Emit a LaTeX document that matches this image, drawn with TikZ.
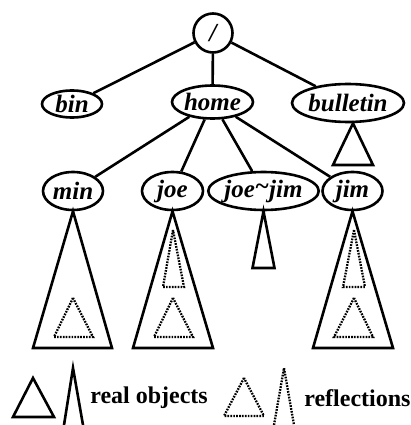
\documentclass[tikz,border=0pt]{standalone}
\usepackage{fontspec}
\setmainfont{Liberation Serif}
\usetikzlibrary{shapes.geometric}
\begin{document}
\begin{tikzpicture}[x=1pt,y=-1pt,
  line width=2.6pt,
  dir/.style={ellipse,draw,inner sep=0pt,font=\fontsize{25}{25}\selectfont\bfseries\itshape},
  rootnode/.style={circle,draw,inner sep=0pt,minimum size=39pt,font=\fontsize{26}{26}\selectfont\bfseries\itshape},
  real/.style={line width=2.6pt,line join=miter},
  refl/.style={line width=2.3pt,dash pattern=on 1.7pt off 1.2pt,line cap=butt},
  legend/.style={anchor=west,inner sep=0pt,font=\fontsize{24}{24}\selectfont\bfseries}]
\useasboundingbox (0,0) rectangle (410,425);

% directory nodes
\node[rootnode] (root) at (213,33) {/};
\node[dir,minimum width=60pt,minimum height=27pt] (bin) at (72,104) {bin};
\node[dir,minimum width=81pt,minimum height=33pt] (home) at (212.5,102) {home};
\node[dir,minimum width=92pt,minimum height=38pt] (bulletin) at (348,103) {bulletin};
\node[dir,minimum width=60pt,minimum height=38pt] (min) at (73,191) {min};
\node[dir,minimum width=61pt,minimum height=38pt] (joe) at (172.5,191) {joe};
\node[dir,minimum width=103pt,minimum height=38pt] (joejim) at (263.5,191) {joe\raisebox{0.1em}{\textasciitilde}jim};
\node[dir,minimum width=60pt,minimum height=38pt] (jim) at (352.5,191) {jim};

% tree edges
\draw (root) -- (bin);
\draw (root) -- (home);
\draw (root) -- (bulletin);
\draw (home) -- (min);
\draw (home) -- (joe);
\draw (home) -- (joejim);
\draw (home) -- (jim);

% subtrees (real objects)
\draw[real] ([xshift=5pt]bulletin.south) -- (333,165) -- (373,165) -- cycle;
\draw[real] (min.south) -- (33,348) -- (112,348) -- cycle;
\draw[real] (joe.south) -- (133,348) -- (213,348) -- cycle;
\draw[real] (joejim.south) -- (252.5,268) -- (274.5,268) -- cycle;
\draw[real] (jim.south) -- (313,348) -- (393,348) -- cycle;

% reflections inside the subtrees
\draw[refl] (73,298) -- (54,337) -- (93,337) -- cycle;
\draw[refl] (173,230) -- (163,287) -- (184,287) -- cycle;
\draw[refl] (173,298) -- (154,337) -- (193,337) -- cycle;
\draw[refl] (354,230) -- (343,287) -- (365,287) -- cycle;
\draw[refl] (354,298) -- (334,337) -- (373,337) -- cycle;

% legend
\draw[real] (33,378) -- (13,417) -- (54,417) -- cycle;
\draw[real] (64,425) -- (73,368) -- (83,425);
\node[legend] (reallbl) at (89,398) {real objects};
\draw[refl] (244,378) -- (224,416) -- (264,416) -- cycle;
\draw[refl] (274,425) -- (284,368) -- (294,425);
\node[legend] (refllbl) at (303,398) {reflections};
\end{tikzpicture}
\end{document}
